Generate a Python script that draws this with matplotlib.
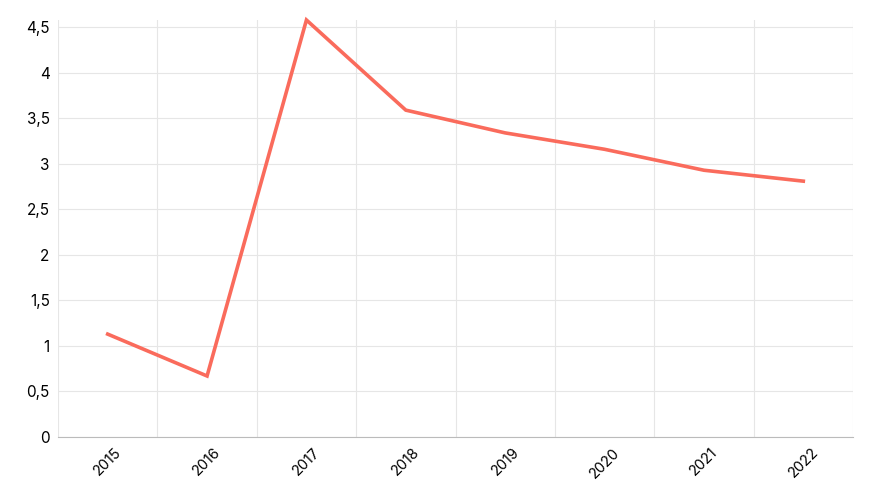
import matplotlib.pyplot as plt

plt.rcParams['font.family'] = ['Inter', 'DejaVu Sans']

years = ["2015", "2016", "2017", "2018", "2019", "2020", "2021", "2022"]
values = [1.13, 0.67, 4.58, 3.59, 3.34, 3.16, 2.93, 2.81]
y_ticks = [0, 0.5, 1, 1.5, 2, 2.5, 3, 3.5, 4, 4.5]
y_labels = ["0", "0,5", "1", "1,5", "2", "2,5", "3", "3,5", "4", "4,5"]

f = plt.figure(figsize=(8.73, 5.0), dpi=100)
ax = f.add_axes([58 / 873, 63 / 500, 795 / 873, 417 / 500])

x = list(range(len(years)))
for i in range(len(years) + 1):
    ax.axvline(i - 0.5, color="#e6e6e6", lw=0.8, zorder=0)
for t in y_ticks:
    ax.axhline(t, color="#e6e6e6", lw=0.8, zorder=0)

ax.plot(x, values, color="#fa6b5c", lw=2.6, solid_joinstyle="miter", clip_on=False)

ax.set_xlim(-0.5, len(years) - 0.5)
ax.set_ylim(0, 4.58)
ax.set_xticks(x)
ax.set_xticklabels(years, rotation=45, fontsize=10.5)
ax.set_yticks(y_ticks)
ax.set_yticklabels(y_labels, fontsize=11)
ax.tick_params(length=0, pad=6)
for s in ["top", "right", "left"]:
    ax.spines[s].set_visible(False)
ax.spines["bottom"].set_color("#bbbbbb")

f.savefig("out.png")
